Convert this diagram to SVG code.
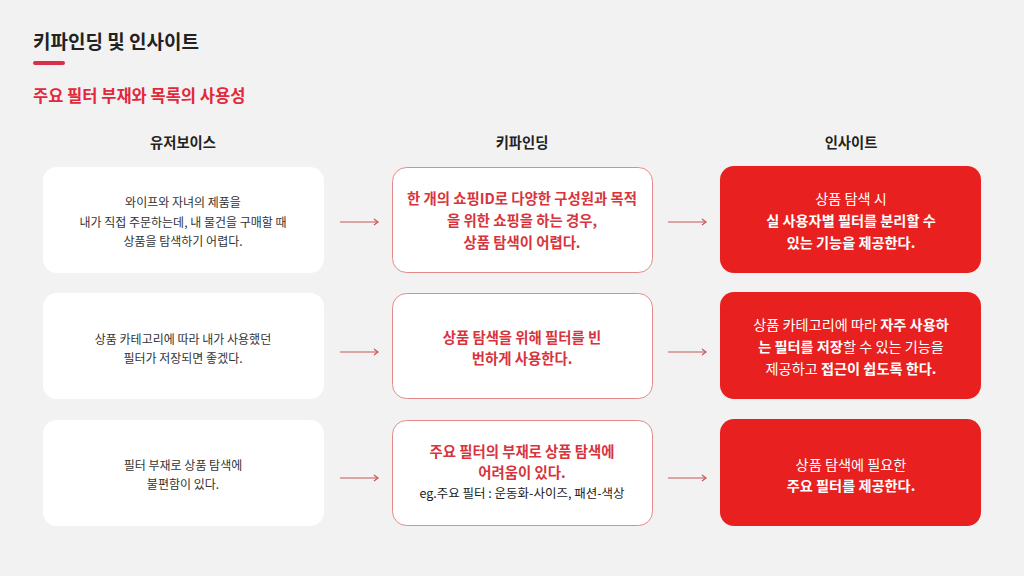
<svg xmlns="http://www.w3.org/2000/svg" width="1024" height="576" viewBox="0 0 1024 576">
<defs>
<style>
text{font-family:"Noto Sans CJK KR","Noto Sans",sans-serif;}
.title{font-size:19px;font-weight:700;fill:#222;}
.sub{font-size:16.5px;font-weight:700;fill:#e2283a;}
.hdr{font-size:14.3px;font-weight:700;fill:#222;text-anchor:middle;}
.voice{fill:#fff;}
.vt{font-size:12px;fill:#333;text-anchor:middle;}
.key{fill:#fff;stroke:#e58a8a;stroke-width:1;}
.kt{font-size:14.4px;font-weight:700;fill:#d8343c;text-anchor:middle;}
.ke{font-size:12.5px;font-weight:400;fill:#222;text-anchor:middle;}
.ins{fill:#e8201f;}
.it{font-size:14.2px;fill:#fff;text-anchor:middle;}
.b{font-weight:700;}
.n{font-weight:400;}
.arr{stroke:#c95555;stroke-width:1.2;fill:none;marker-end:url(#ah);}
</style>
<marker id="ah" markerUnits="userSpaceOnUse" markerWidth="8" markerHeight="8" refX="6" refY="4" orient="auto">
<path d="M2,1 L6,4 L2,7" fill="none" stroke="#c95555" stroke-width="1.2"/>
</marker>
</defs>
<rect width="1024" height="576" fill="#f2f2f2"/>
<g id="header">
<text class="title" x="33" y="49">키파인딩 및 인사이트</text>
<rect x="33" y="61" width="32" height="4" rx="2" fill="#d9304a"/>
<text class="sub" x="33" y="102">주요 필터 부재와 목록의 사용성</text>
<text class="hdr" x="183" y="148">유저보이스</text>
<text class="hdr" x="522" y="148">키파인딩</text>
<text class="hdr" x="851" y="148">인사이트</text>
</g>
<g id="voice1"><rect class="voice" x="43" y="167" width="281" height="106" rx="14"/>
<text class="vt" x="183" y="207">와이프와 자녀의 제품을</text>
<text class="vt" x="183" y="226.5">내가 직접 주문하는데, 내 물건을 구매할 때</text>
<text class="vt" x="183" y="246">상품을 탐색하기 어렵다.</text></g>
<g id="voice2"><rect class="voice" x="43" y="293" width="281" height="106" rx="14"/>
<text class="vt" x="183" y="343.5">상품 카테고리에 따라 내가 사용했던</text>
<text class="vt" x="183" y="362.5">필터가 저장되면 좋겠다.</text></g>
<g id="voice3"><rect class="voice" x="43" y="420" width="281" height="106" rx="14"/>
<text class="vt" x="183" y="469.5">필터 부재로 상품 탐색에</text>
<text class="vt" x="183" y="488.5">불편함이 있다.</text></g>
<g id="key1"><rect class="key" x="392.5" y="167.5" width="260" height="105" rx="14"/>
<text class="kt" x="522" y="204">한 개의 쇼핑ID로 다양한 구성원과 목적</text>
<text class="kt" x="522" y="226">을 위한 쇼핑을 하는 경우,</text>
<text class="kt" x="522" y="248">상품 탐색이 어렵다.</text></g>
<g id="key2"><rect class="key" x="392.5" y="293.5" width="260" height="105" rx="14"/>
<text class="kt" x="522" y="343">상품 탐색을 위해 필터를 빈</text>
<text class="kt" x="522" y="364">번하게 사용한다.</text></g>
<g id="key3"><rect class="key" x="392.5" y="420.5" width="260" height="105" rx="14"/>
<text class="kt" x="522" y="457">주요 필터의 부재로 상품 탐색에</text>
<text class="kt" x="522" y="478">어려움이 있다.</text>
<text class="ke" x="522" y="498">eg.주요 필터 : 운동화-사이즈, 패션-색상</text></g>
<g id="ins1"><rect class="ins" x="720" y="166" width="261" height="107" rx="14"/>
<text class="it n" x="851" y="204">상품 탐색 시</text>
<text class="it b" x="851" y="226">실 사용자별 필터를 분리할 수</text>
<text class="it b" x="851" y="248">있는 기능을 제공한다.</text></g>
<g id="ins2"><rect class="ins" x="720" y="292" width="261" height="107" rx="14"/>
<text class="it" x="851" y="330"><tspan class="n">상품 카테고리에 따라 </tspan><tspan class="b">자주 사용하</tspan></text>
<text class="it" x="851" y="352"><tspan class="b">는 필터를 저장</tspan><tspan class="n">할 수 있는 기능을</tspan></text>
<text class="it" x="851" y="374"><tspan class="n">제공하고 </tspan><tspan class="b">접근이 쉽도록 한다.</tspan></text></g>
<g id="ins3"><rect class="ins" x="720" y="419" width="261" height="107" rx="14"/>
<text class="it n" x="851" y="470">상품 탐색에 필요한</text>
<text class="it b" x="851" y="491">주요 필터를 제공한다.</text></g>
<g id="connectors">
<line class="arr" x1="340" y1="222" x2="378" y2="222"/>
<line class="arr" x1="668" y1="222" x2="706" y2="222"/>
<line class="arr" x1="340" y1="352" x2="378" y2="352"/>
<line class="arr" x1="668" y1="352" x2="706" y2="352"/>
<line class="arr" x1="340" y1="478" x2="378" y2="478"/>
<line class="arr" x1="668" y1="478" x2="706" y2="478"/>
</g>
</svg>
